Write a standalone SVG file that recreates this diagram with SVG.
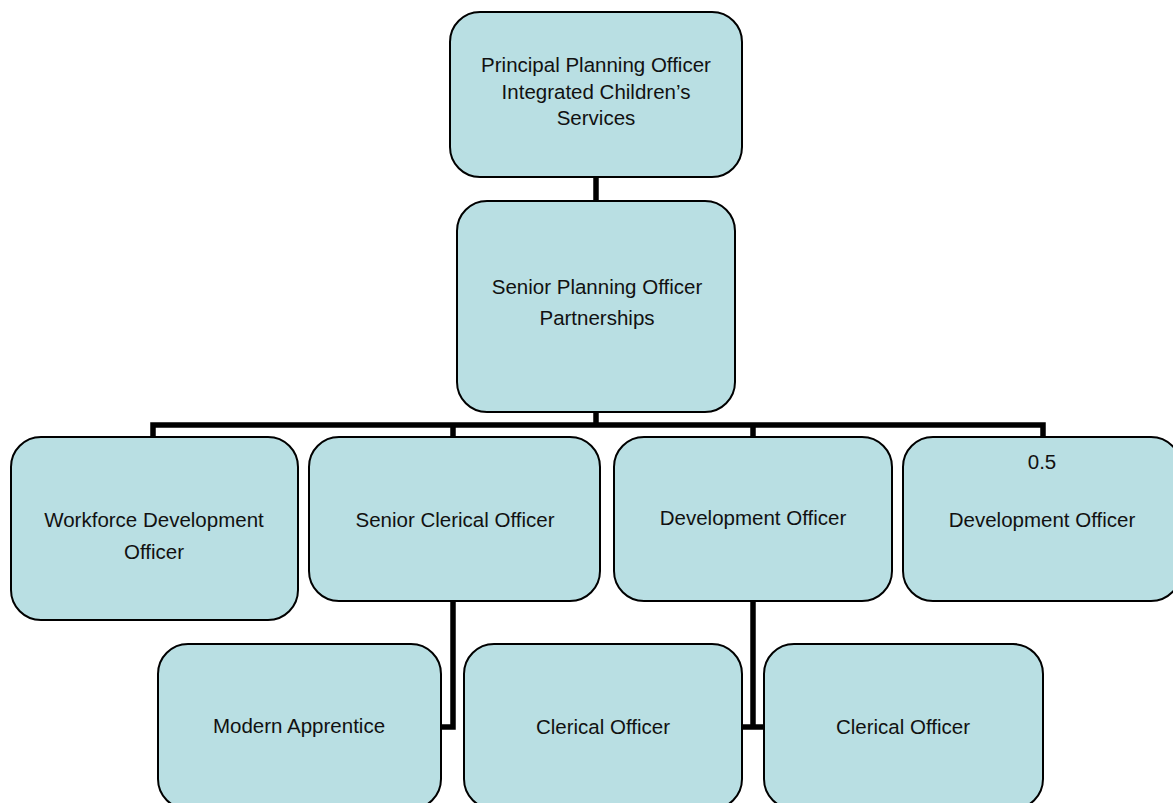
<svg xmlns="http://www.w3.org/2000/svg" width="1173" height="803" viewBox="0 0 1173 803">
<style>
.box{fill:#b9dfe3;stroke:#000;stroke-width:2}
.lbl{font-family:"Liberation Sans",Arial,sans-serif;font-size:20.5px;fill:#111;text-anchor:middle}
.con{fill:none;stroke:#000;stroke-width:5.5;stroke-linejoin:miter;stroke-linecap:butt}
</style>
<rect width="1173" height="803" fill="#fff"/>
<g id="connectors">
<path class="con" d="M596 176V202"/>
<path class="con" d="M596 411V425"/>
<path class="con" d="M153 438V425H1043V438"/>
<path class="con" d="M453 425V438"/>
<path class="con" d="M753 425V438"/>
<path class="con" d="M453 601V727H440"/>
<path class="con" d="M753 601V727"/>
<path class="con" d="M741 727H765"/>
</g>
<g id="principal">
<rect class="box" x="450" y="12" width="292" height="165" rx="30"/>
<text class="lbl" x="596" y="72">Principal Planning Officer</text>
<text class="lbl" x="596" y="99">Integrated Children’s</text>
<text class="lbl" x="596" y="125">Services</text>
</g>
<g id="senior-planning">
<rect class="box" x="457" y="201" width="278" height="211" rx="30"/>
<text class="lbl" x="597" y="294">Senior Planning Officer</text>
<text class="lbl" x="597" y="325">Partnerships</text>
</g>
<g id="workforce">
<rect class="box" x="11" y="437" width="287" height="183" rx="30"/>
<text class="lbl" x="154" y="527">Workforce Development</text>
<text class="lbl" x="154" y="559">Officer</text>
</g>
<g id="senior-clerical">
<rect class="box" x="309" y="437" width="291" height="164" rx="30"/>
<text class="lbl" x="455" y="527">Senior Clerical Officer</text>
</g>
<g id="development">
<rect class="box" x="614" y="437" width="278" height="164" rx="30"/>
<text class="lbl" x="753" y="525">Development Officer</text>
</g>
<g id="development-half">
<rect class="box" x="903" y="437" width="278" height="164" rx="30"/>
<text class="lbl" x="1042" y="469">0.5</text>
<text class="lbl" x="1042" y="527">Development Officer</text>
</g>
<g id="modern-apprentice">
<rect class="box" x="158" y="644" width="283" height="165" rx="30"/>
<text class="lbl" x="299" y="733">Modern Apprentice</text>
</g>
<g id="clerical-1">
<rect class="box" x="464" y="644" width="278" height="165" rx="30"/>
<text class="lbl" x="603" y="734">Clerical Officer</text>
</g>
<g id="clerical-2">
<rect class="box" x="764" y="644" width="279" height="165" rx="30"/>
<text class="lbl" x="903" y="734">Clerical Officer</text>
</g>
</svg>
